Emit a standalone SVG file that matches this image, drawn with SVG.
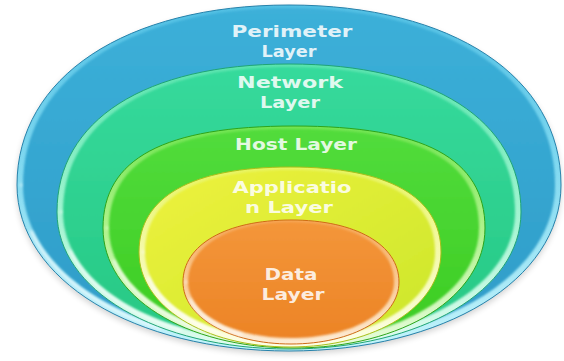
<svg xmlns="http://www.w3.org/2000/svg" width="564" height="361" viewBox="0 0 564 361">
  <defs>
    <filter id="soft" x="-5%" y="-5%" width="110%" height="110%">
      <feGaussianBlur stdDeviation="1.3"/>
    </filter>
    <filter id="glint" x="-10%" y="-10%" width="120%" height="120%">
      <feGaussianBlur stdDeviation="1.6"/>
    </filter>
    <filter id="shadow" x="-10%" y="-10%" width="120%" height="130%">
      <feGaussianBlur stdDeviation="3"/>
    </filter>
    <!-- rim (bevel light) gradients -->
    <linearGradient id="rimBlue" x1="0" y1="0" x2="0" y2="1">
      <stop offset="0" stop-color="#52c0e4"/>
      <stop offset="0.45" stop-color="#7fd8f0"/>
      <stop offset="1" stop-color="#c4f4fb"/>
    </linearGradient>
    <linearGradient id="rimTeal" x1="0" y1="0" x2="0" y2="1">
      <stop offset="0" stop-color="#5ae4ae"/>
      <stop offset="0.45" stop-color="#98f2cc"/>
      <stop offset="1" stop-color="#e0fcef"/>
    </linearGradient>
    <linearGradient id="rimGreen" x1="0" y1="0" x2="0" y2="1">
      <stop offset="0" stop-color="#72e552"/>
      <stop offset="0.45" stop-color="#aef28a"/>
      <stop offset="1" stop-color="#e8fcdc"/>
    </linearGradient>
    <linearGradient id="rimYellow" x1="0" y1="0" x2="0" y2="1">
      <stop offset="0" stop-color="#e8f460"/>
      <stop offset="0.45" stop-color="#f4f9a8"/>
      <stop offset="1" stop-color="#fdfee6"/>
    </linearGradient>
    <linearGradient id="rimOrange" x1="0" y1="0" x2="0" y2="1">
      <stop offset="0" stop-color="#f6a656"/>
      <stop offset="0.45" stop-color="#f9c890"/>
      <stop offset="1" stop-color="#fdecd6"/>
    </linearGradient>
    <!-- face gradients -->
    <linearGradient id="faceBlue" x1="0" y1="0" x2="0" y2="1">
      <stop offset="0" stop-color="#3cb0d9"/>
      <stop offset="1" stop-color="#2f9cc8"/>
    </linearGradient>
    <linearGradient id="faceTeal" x1="0" y1="0" x2="0" y2="1">
      <stop offset="0" stop-color="#36da9c"/>
      <stop offset="1" stop-color="#27c884"/>
    </linearGradient>
    <linearGradient id="faceGreen" x1="0" y1="0" x2="0" y2="1">
      <stop offset="0" stop-color="#52dc3c"/>
      <stop offset="1" stop-color="#3ccc22"/>
    </linearGradient>
    <linearGradient id="faceYellow" x1="0" y1="0" x2="1" y2="1">
      <stop offset="0" stop-color="#eef23e"/>
      <stop offset="1" stop-color="#cbe62a"/>
    </linearGradient>
    <linearGradient id="faceOrange" x1="0" y1="0" x2="0" y2="1">
      <stop offset="0" stop-color="#f4963a"/>
      <stop offset="1" stop-color="#ec8426"/>
    </linearGradient>
  </defs>
  <style>
    .lbl { font-family: "DejaVu Sans", "Liberation Sans", sans-serif; font-weight: bold; font-size: 15.5px; fill: #ffffff; fill-opacity: 0.86; text-anchor: middle; }
    .edge { stroke-width: 1; }
    .face { filter: url(#soft); }
    .glint { fill: none; stroke: #ffffff; stroke-width: 2.5; stroke-opacity: 0.75; stroke-linecap: round; stroke-dasharray: 0 14 48 200; filter: url(#glint); }
  </style>

  <!-- soft drop shadow under the stack -->
  <path d="M17,188 C17,80 125.8,8 289,8 C452.2,8 561,80 561,188 C561,282.6 444,354 289,354 C134,354 17,282.6 17,188 Z" fill="#000" opacity="0.18" filter="url(#shadow)"/>

  <g id="perimeter">
    <path class="edge" d="M17,185 C17,77 125.8,5 289,5 C452.2,5 561,77 561,185 C561,279.6 444,351 289,351 C134,351 17,279.6 17,185 Z" fill="url(#rimBlue)" stroke="#2682ab"/>
    <path class="face" d="M23,185 C23,78.8 129.4,8 289,8 C448.6,8 555,78.8 555,185 C555,275.6 440.6,344 289,344 C137.4,344 23,275.6 23,185 Z" fill="url(#faceBlue)"/>
    <path class="glint" pathLength="100" d="M21,185 C21,277 136,347 289,347"/>
    <text class="lbl" x="292" y="37" textLength="121" lengthAdjust="spacingAndGlyphs">Perimeter</text>
    <text class="lbl" x="289" y="57" textLength="55" lengthAdjust="spacingAndGlyphs">Layer</text>
  </g>

  <g id="network">
    <path class="edge" d="M57,212 C57,120.2 145.2,64 289,64 C432.8,64 521,120.2 521,212 C521,290.1 421.2,349 289,349 C156.8,349 57,290.1 57,212 Z" fill="url(#rimTeal)" stroke="#1fa575"/>
    <path class="face" d="M63,212 C63,122.1 148.9,67 289,67 C429.1,67 515,122.1 515,212 C515,286.1 417.8,342 289,342 C160.2,342 63,286.1 63,212 Z" fill="url(#faceTeal)"/>
    <path class="glint" pathLength="100" d="M61,212 C61,288 159,345 289,345"/>
    <text class="lbl" x="290" y="88" textLength="106" lengthAdjust="spacingAndGlyphs">Network</text>
    <text class="lbl" x="290" y="108" textLength="60" lengthAdjust="spacingAndGlyphs">Layer</text>
  </g>

  <g id="host">
    <path class="edge" d="M103,228 C103,158.6 164.1,126 294,126 C423.9,126 485,158.6 485,228 C485,296.4 402.9,348 294,348 C185.1,348 103,296.4 103,228 Z" fill="url(#rimGreen)" stroke="#2ea51a"/>
    <path class="face" d="M109,228 C109,160.7 168.2,129 294,129 C419.8,129 479,160.7 479,228 C479,292.4 399.5,341 294,341 C188.5,341 109,292.4 109,228 Z" fill="url(#faceGreen)"/>
    <path class="glint" pathLength="100" d="M107,228 C107,294 187,344 294,344"/>
    <text class="lbl" x="296" y="150" textLength="122" lengthAdjust="spacingAndGlyphs">Host Layer</text>
  </g>

  <g id="application">
    <path class="edge" d="M139,252 C139,196.7 191.8,167 290,167 C388.2,167 441,196.7 441,252 C441,306.2 376.1,347 290,347 C203.9,347 139,306.2 139,252 Z" fill="url(#rimYellow)" stroke="#a9bf18"/>
    <path class="face" d="M145,252 C145,198.7 195.7,170 290,170 C384.3,170 435,198.7 435,252 C435,302.2 372.7,340 290,340 C207.3,340 145,302.2 145,252 Z" fill="url(#faceYellow)"/>
    <path class="glint" pathLength="100" d="M143,252 C143,304 206,343 290,343"/>
    <text class="lbl" x="292" y="193" textLength="119" lengthAdjust="spacingAndGlyphs">Applicatio</text>
    <text class="lbl" x="289" y="213" textLength="88" lengthAdjust="spacingAndGlyphs">n Layer</text>
  </g>

  <g id="data">
    <path class="edge" d="M183,282 C183,244.8 226.2,220 291,220 C355.8,220 399,244.8 399,282 C399,317.3 352.6,344 291,344 C229.4,344 183,317.3 183,282 Z" fill="url(#rimOrange)" stroke="#cf6a16"/>
    <path class="face" d="M188,282 C188,246 229.2,222 291,222 C352.8,222 394,246 394,282 C394,313.9 349.7,338 291,338 C232.3,338 188,313.9 188,282 Z" fill="url(#faceOrange)"/>
    <path class="glint" pathLength="100" d="M186,282 C186,316 231,341 291,341"/>
    <text class="lbl" x="291" y="280" textLength="53" lengthAdjust="spacingAndGlyphs">Data</text>
    <text class="lbl" x="293" y="300" textLength="63" lengthAdjust="spacingAndGlyphs">Layer</text>
  </g>
</svg>
